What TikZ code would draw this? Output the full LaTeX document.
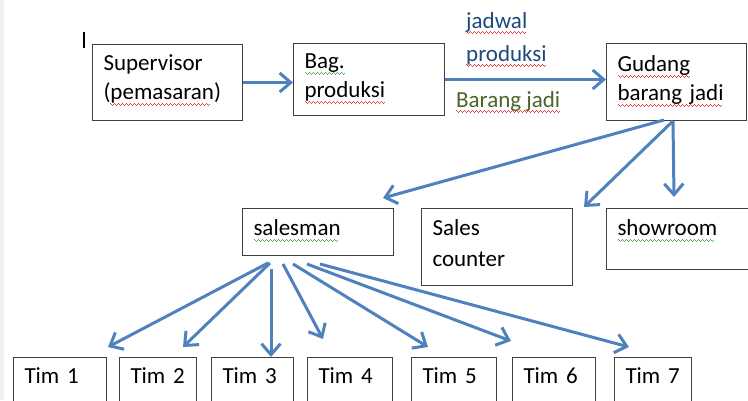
\documentclass[tikz,border=0pt]{standalone}
\usepackage{fontspec}
\setmainfont{Carlito}
\usetikzlibrary{arrows.meta}
\definecolor{arrowblue}{RGB}{79,129,189}
\definecolor{labelblue}{RGB}{31,73,125}
\definecolor{labelgreen}{RGB}{79,98,40}
\definecolor{spellred}{RGB}{235,60,60}
\definecolor{spellgreen}{RGB}{80,170,80}
\newcommand{\squig}[2]{\leavevmode\setbox0\hbox{#2}\rlap{\color{#1}\leaders\hbox{\rule[-4pt]{1pt}{1pt}\rule[-5pt]{1pt}{1pt}\rule[-6pt]{1pt}{1pt}\rule[-5pt]{1pt}{1pt}}\hskip\wd0}\box0}
\newcommand{\redwave}[1]{\squig{spellred}{#1}}
\newcommand{\greenwave}[1]{\squig{spellgreen}{#1}}
\tikzset{
    box/.style={draw=black!75, line width=1pt, anchor=north west, inner xsep=11pt, inner ysep=0pt,
        align=left, text height=26pt, font=\fontsize{23}{29}\selectfont},
    lbl/.style={anchor=base west, inner sep=0pt, align=left, font=\fontsize{23}{33}\selectfont},
    arr/.style={draw=arrowblue, line width=3pt, -{Straight Barb[length=11pt, width=19pt]}}
}
\begin{document}
\begin{tikzpicture}[x=1pt, y=-1pt]
    \useasboundingbox (0,0) rectangle (748,400);
    \clip (0,0) rectangle (748,400);
    \fill[black!6] (0,0) rectangle (4,400);
    \draw[line width=1.5pt] (84,32) -- (84,48);

    \node[box, text width=128pt, text depth=50pt] (sup) at (92,44) {Supervisor\\(\redwave{pemasaran})};
    \node[box, text width=129pt, text height=25pt, text depth=47pt] (bag) at (293,43) {\greenwave{Bag.}\\\redwave{produksi}};
    \node[box, text width=118pt, text height=28pt, text depth=49pt] (gd) at (606,43) {\redwave{Gudang}\\\redwave{barang jadi}};
    \node[lbl, text width=100pt, text=labelblue] (jadwal) at (466,28) {\redwave{jadwal}\\\redwave{produksi}};
    \node[lbl, text=labelgreen] (barang) at (456,107) {\redwave{Barang jadi}};

    \node[box, text width=129pt, text height=27pt, text depth=20pt] (sm) at (242,208) {\greenwave{salesman}};
    \node[box, text width=129pt, text height=27pt, text depth=50pt] (sc) at (421,208) {Sales\\[2pt]counter};
    \node[box, text width=138pt, text height=27pt, text depth=34pt] (sr) at (606,208) {\greenwave{showroom}};

    \node[box, text width=71pt, text depth=40pt] (tim1) at (13,357) {Tim 1};
    \node[box, text width=55pt, text depth=40pt] (tim2) at (119,357) {Tim 2};
    \node[box, text width=60pt, text depth=40pt] (tim3) at (211,357) {Tim 3};
    \node[box, text width=63pt, text depth=40pt] (tim4) at (307,357) {Tim 4};
    \node[box, text width=63pt, text depth=40pt] (tim5) at (411,357) {Tim 5};
    \node[box, text width=61pt, text depth=40pt] (tim6) at (512,357) {Tim 6};
    \node[box, text width=55pt, text depth=40pt] (tim7) at (614,357) {Tim 7};

    \draw[arr] (sup.east) -- (sup.east -| bag.west);
    \draw[arr] (bag.east) -- (bag.east -| gd.west);
    \draw[arr] ([shift={(58,-1)}]gd.south west) -- ([shift={(-11,-10)}]sm.north east);
    \draw[arr] ([shift={(67,0)}]gd.south west) -- ([shift={(11,-1)}]sc.north east);
    \draw[arr] ([shift={(67,0)}]gd.south west) -- ([shift={(68,-11)}]sr.north west);

    \draw[arr] ([shift={(26,7)}]sm.south west) -- ([shift={(1,-10)}]tim1.north east);
    \draw[arr] ([shift={(28,7)}]sm.south west) -- ([shift={(64,-10)}]tim2.north west);
    \draw[arr] ([shift={(29,13)}]sm.south west) -- ([shift={(60,0)}]tim3.north west);
    \draw[arr] ([shift={(41,8)}]sm.south west) -- ([shift={(16,-18)}]tim4.north west);
    \draw[arr] ([shift={(51,8)}]sm.south west) -- ([shift={(17,-10)}]tim5.north west);
    \draw[arr] ([shift={(65,8)}]sm.south west) -- ([shift={(-1,-16)}]tim6.north west);
    \draw[arr] ([shift={(78,8)}]sm.south west) -- ([shift={(15,-10)}]tim7.north west);
\end{tikzpicture}
\end{document}
